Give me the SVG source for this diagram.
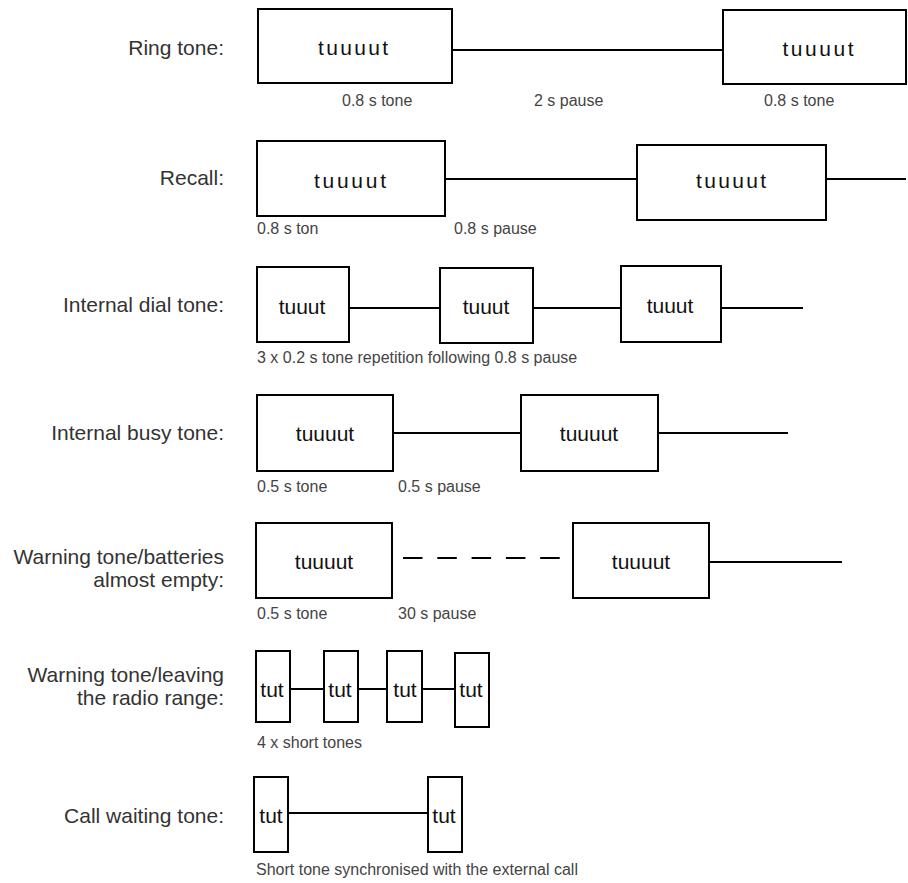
<svg xmlns="http://www.w3.org/2000/svg" width="908" height="883" viewBox="0 0 908 883">
<style>
  .box { fill: #fff; stroke: #000; stroke-width: 2; }
  .wire { stroke: #000; stroke-width: 2; fill: none; }
  .dash { stroke-dasharray: 19.5 14.8; }
  .lbl { font-family: "Liberation Sans", Arial, sans-serif; font-size: 21px; fill: #333; text-anchor: end; }
  .bt { font-family: "Liberation Sans", Arial, sans-serif; font-size: 21px; fill: #111; text-anchor: middle; }
  .note { font-family: "Liberation Sans", Arial, sans-serif; font-size: 16px; fill: #444; }
</style>
<rect width="908" height="883" fill="#fff"/>

<!-- Row labels -->
<g id="labels">
  <text class="lbl" x="224" y="55">Ring tone:</text>
  <text class="lbl" x="224" y="185">Recall:</text>
  <text class="lbl" x="224" y="312">Internal dial tone:</text>
  <text class="lbl" x="224" y="440">Internal busy tone:</text>
  <text class="lbl" x="224" y="564">Warning tone/batteries</text>
  <text class="lbl" x="224" y="587">almost empty:</text>
  <text class="lbl" x="224" y="682">Warning tone/leaving</text>
  <text class="lbl" x="224" y="705">the radio range:</text>
  <text class="lbl" x="224" y="823">Call waiting tone:</text>
</g>

<!-- Connectors -->
<g id="connectors">
  <line class="wire" x1="452" y1="50" x2="723" y2="50"/>
  <line class="wire" x1="445" y1="179" x2="637" y2="179"/>
  <line class="wire" x1="826" y1="179" x2="906" y2="179"/>
  <line class="wire" x1="349" y1="308" x2="440" y2="308"/>
  <line class="wire" x1="533" y1="308" x2="621" y2="308"/>
  <line class="wire" x1="721" y1="308" x2="803" y2="308"/>
  <line class="wire" x1="393" y1="433" x2="521" y2="433"/>
  <line class="wire" x1="658" y1="433" x2="788" y2="433"/>
  <line class="wire dash" x1="403" y1="558" x2="560" y2="558"/>
  <line class="wire" x1="709" y1="562" x2="842" y2="562"/>
  <line class="wire" x1="290" y1="689" x2="324" y2="689"/>
  <line class="wire" x1="358" y1="689" x2="387" y2="689"/>
  <line class="wire" x1="422" y1="689" x2="455" y2="689"/>
  <line class="wire" x1="288" y1="813" x2="428" y2="813"/>
</g>

<!-- Ring tone -->
<g id="ring-1"><rect class="box" x="258" y="9" width="194" height="74"/><text class="bt" x="353" y="55" textLength="70" lengthAdjust="spacing">tuuuut</text></g>
<g id="ring-2"><rect class="box" x="723" y="10" width="183" height="74"/><text class="bt" x="818" y="56" textLength="71" lengthAdjust="spacing">tuuuut</text></g>
<g id="ring-notes">
  <text class="note" x="342" y="106">0.8 s tone</text>
  <text class="note" x="534" y="106">2 s pause</text>
  <text class="note" x="764" y="106">0.8 s tone</text>
</g>

<!-- Recall -->
<g id="recall-1"><rect class="box" x="257" y="141" width="188" height="75"/><text class="bt" x="350" y="188" textLength="72" lengthAdjust="spacing">tuuuut</text></g>
<g id="recall-2"><rect class="box" x="637" y="145" width="189" height="75"/><text class="bt" x="731" y="188" textLength="70" lengthAdjust="spacing">tuuuut</text></g>
<g id="recall-notes">
  <text class="note" x="257" y="234">0.8 s ton</text>
  <text class="note" x="454" y="234">0.8 s pause</text>
</g>

<!-- Internal dial tone -->
<g id="dial-1"><rect class="box" x="257" y="267" width="92" height="75"/><text class="bt" x="302" y="314">tuuut</text></g>
<g id="dial-2"><rect class="box" x="440" y="268" width="93" height="75"/><text class="bt" x="486" y="314">tuuut</text></g>
<g id="dial-3"><rect class="box" x="621" y="266" width="100" height="76"/><text class="bt" x="670" y="313">tuuut</text></g>
<g id="dial-notes">
  <text class="note" x="257" y="363">3 x 0.2 s tone repetition following 0.8 s pause</text>
</g>

<!-- Internal busy tone -->
<g id="busy-1"><rect class="box" x="257" y="395" width="136" height="76"/><text class="bt" x="325" y="441">tuuuut</text></g>
<g id="busy-2"><rect class="box" x="521" y="395" width="137" height="76"/><text class="bt" x="589" y="441">tuuuut</text></g>
<g id="busy-notes">
  <text class="note" x="257" y="492">0.5 s tone</text>
  <text class="note" x="398" y="492">0.5 s pause</text>
</g>

<!-- Warning tone batteries -->
<g id="battery-1"><rect class="box" x="256" y="523" width="136" height="75"/><text class="bt" x="324" y="569">tuuuut</text></g>
<g id="battery-2"><rect class="box" x="573" y="523" width="136" height="75"/><text class="bt" x="641" y="569">tuuuut</text></g>
<g id="battery-notes">
  <text class="note" x="257" y="619">0.5 s tone</text>
  <text class="note" x="398" y="619">30 s pause</text>
</g>

<!-- Warning tone radio range -->
<g id="range-1"><rect class="box" x="256" y="651" width="34" height="71"/><text class="bt" x="272" y="697">tut</text></g>
<g id="range-2"><rect class="box" x="324" y="651" width="34" height="71"/><text class="bt" x="340" y="697">tut</text></g>
<g id="range-3"><rect class="box" x="387" y="651" width="35" height="71"/><text class="bt" x="405" y="697">tut</text></g>
<g id="range-4"><rect class="box" x="455" y="653" width="34" height="74"/><text class="bt" x="471" y="697">tut</text></g>
<g id="range-notes">
  <text class="note" x="257" y="748">4 x short tones</text>
</g>

<!-- Call waiting tone -->
<g id="wait-1"><rect class="box" x="254" y="777" width="34" height="75"/><text class="bt" x="271" y="823">tut</text></g>
<g id="wait-2"><rect class="box" x="428" y="777" width="34" height="75"/><text class="bt" x="444" y="823">tut</text></g>
<g id="wait-notes">
  <text class="note" x="256" y="875">Short tone synchronised with the external call</text>
</g>
</svg>
